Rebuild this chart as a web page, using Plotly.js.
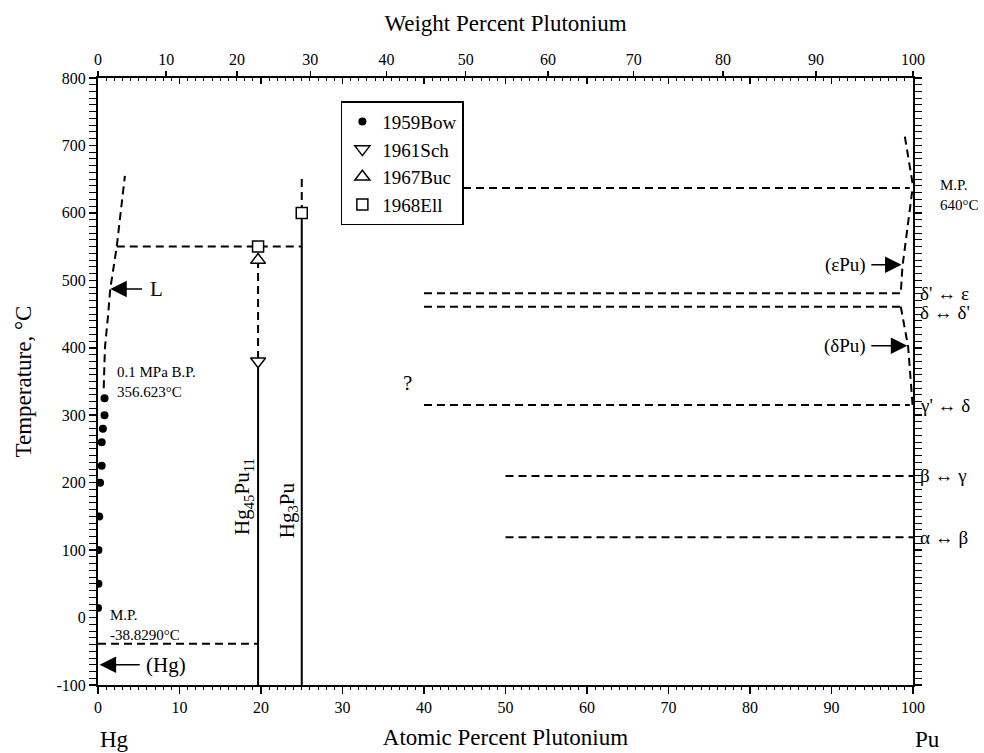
<!DOCTYPE html>
<html>
<head>
<meta charset="utf-8">
<script src="https://cdn.plot.ly/plotly-3.0.1.min.js"></script>
<style>html,body{margin:0;padding:0;background:#fff;}#chart{width:984px;height:753px;}</style>
</head>
<body>
<div id="chart"></div>
<script>
// ---- Data ----
// 1959Bow (filled circles) near pure Hg
const bowX = [0.8, 0.8, 0.6, 0.45, 0.45, 0.25, 0.15, 0.05, 0.05, 0.0];
const bowT = [325, 300, 280, 260, 225, 200, 150, 100, 50, 14];
// 1961Sch (down triangle), 1967Buc (up triangle), 1968Ell (squares)
const schX = [19.64]; const schT = [380];
const bucX = [19.64]; const bucT = [530];
const ellX = [19.64, 25]; const ellT = [550, 600];
// Hg-rich liquidus (dashed)
const liqHgX = [0.7, 0.85, 1.25, 1.5, 2.3, 3.3];
const liqHgT = [340, 400, 450, 487, 550, 655];
// Compounds
const hg45Pu11X = 19.64, hg3PuX = 25;
const peritecticT = 550;
const hg45Pu11Top = 380, hg45Pu11DashTop = 530;
const hg3PuTop = 600, hg3PuDashTop = 655;
const eutecticT = -38.829;
// Pu allotropic transformations (horizontal dashed lines)
const puTransT     = [637, 481, 461, 315, 210, 119];
const puTransStart = [40, 40, 40, 40, 50, 50];
const puTransEnd   = [99.6, 98.6, 98.6, 99.6, 100, 100];
const puTransLabels = ["", "δ' ↔ ε", "δ ↔ δ'", "γ' ↔ δ", "β ↔ γ", "α ↔ β"];
// Pu-rich boundaries (dashed)
const liqPuX = [99.0, 100.0];  const liqPuT = [713, 640];
const epsX = [99.9, 98.7, 98.5]; const epsT = [632, 520, 481];
const delX = [98.5, 99.4, 99.95]; const delT = [461, 402, 315];
// Axis tick labels
const wtTicks = [0, 10, 20, 30, 40, 50, 60, 70, 80, 90, 100];
const tempTicks = [-100, 0, 100, 200, 300, 400, 500, 600, 700, 800];
const tempTickText = ['-100', '0', '100', '200', '300', '400', '500', '600', '700', '800'];
const M_HG = 200.59, M_PU = 244;
function wtToAt(w){ const a = w / M_PU, b = (100 - w) / M_HG; return a + b === 0 ? 0 : 100 * a / (a + b); }

const black = '#000';
const DASH = '8px,5px';
function line(x, y, dashed, w){
  return {x: x, y: y, mode: 'lines', type: 'scatter', showlegend: false, hoverinfo: 'skip',
          line: {color: black, width: w || 2, dash: dashed ? DASH : 'solid'}};
}
const traces = [];
traces.push(line(liqHgX, liqHgT, true));
traces.push(line([liqHgX[4], hg3PuX], [peritecticT, peritecticT], true));
traces.push(line([hg45Pu11X, hg45Pu11X], [hg45Pu11DashTop, hg45Pu11Top], true));
traces.push(line([hg45Pu11X, hg45Pu11X], [hg45Pu11Top, -100], false));
traces.push(line([hg3PuX, hg3PuX], [-100, hg3PuTop], false));
traces.push(line([hg3PuX, hg3PuX], [hg3PuTop, hg3PuDashTop], true));
traces.push(line([0, hg45Pu11X], [eutecticT, eutecticT], true));
for (let i = 0; i < puTransT.length; i++) {
  traces.push(line([puTransStart[i], puTransEnd[i]], [puTransT[i], puTransT[i]], true));
}
traces.push(line(liqPuX, liqPuT, true));
traces.push(line(epsX, epsT, true));
traces.push(line(delX, delT, true));
traces.push({x: [0, 100], y: [0, 0], xaxis: 'x3', yaxis: 'y', mode: 'markers', marker: {opacity: 0}, showlegend: false, hoverinfo: 'skip'});
traces.push({x: [0, 100], y: [0, 0], xaxis: 'x2', yaxis: 'y', mode: 'markers', marker: {opacity: 0}, showlegend: false, hoverinfo: 'skip'});
traces.push({x: bowX, y: bowT, name: '1959Bow', mode: 'markers', type: 'scatter',
  marker: {symbol: 'circle', size: 8, color: black}});
traces.push({x: schX, y: schT, name: '1961Sch', mode: 'markers', type: 'scatter',
  marker: {symbol: 'triangle-down', size: 13, color: '#fff', line: {color: black, width: 1.5}}});
traces.push({x: bucX, y: bucT, name: '1967Buc', mode: 'markers', type: 'scatter',
  marker: {symbol: 'triangle-up', size: 13, color: '#fff', line: {color: black, width: 1.5}}});
traces.push({x: ellX, y: ellT, name: '1968Ell', mode: 'markers', type: 'scatter',
  marker: {symbol: 'square', size: 11, color: '#fff', line: {color: black, width: 1.5}}});

const FONT = 'Liberation Serif, Times New Roman, serif';
const ann = [];
function txt(x, y, text, size, opts){
  ann.push(Object.assign({x: x, y: y, xref: 'x', yref: 'y', text: text, showarrow: false,
    font: {family: FONT, size: size, color: black}, xanchor: 'left', yanchor: 'middle', align: 'left'}, opts || {}));
}
function arrow(x, y, ax, ay){
  ann.push({x: x, y: y, ax: ax, ay: ay, xref: 'x', yref: 'y', axref: 'x', ayref: 'y', text: '',
    showarrow: true, arrowhead: 2, arrowsize: 2.2, arrowwidth: 1.5, arrowcolor: black, standoff: 0});
}
arrow(1.5, 487, 5.6, 487);  txt(6.1, 487, 'L', 21);
arrow(0.2, -70, 5.3, -70);  txt(5.6, -70, '(Hg)', 21);
arrow(98.6, 523, 94.7, 523); txt(94.5, 523, '(εPu)', 19, {xanchor: 'right'});
arrow(99.3, 403, 94.7, 403); txt(94.5, 403, '(δPu)', 19, {xanchor: 'right'});
txt(2.1, 350, '0.1 MPa B.P.<br>356.623°C', 15);
txt(1.2, -11, 'M.P.<br>-38.8290°C', 15);
// labels outside the right edge of the plot (paper coordinates)
ann.push({x: 1.0307, y: 627, xref: 'paper', yref: 'y', text: 'M.P.<br>640°C', showarrow: false,
  xanchor: 'left', yanchor: 'middle', align: 'left', font: {family: FONT, size: 15, color: black}});
for (let i = 0; i < puTransLabels.length; i++) {
  if (!puTransLabels[i]) continue;
  ann.push({x: 1.006, y: puTransT[i] - (i === 2 ? 8 : 0), xref: 'paper', yref: 'y', text: puTransLabels[i],
    showarrow: false, xanchor: 'left', yanchor: 'middle', font: {family: FONT, size: 19, color: black}});
}
txt(38.0, 348, '?', 21, {xanchor: 'center'});
txt(17.8, 179, 'Hg<sub>45</sub>Pu<sub>11</sub>', 21, {xanchor: 'center', textangle: -90});
txt(23.3, 159, 'Hg<sub>3</sub>Pu', 21, {xanchor: 'center', textangle: -90});
ann.push({x: 0, y: -0.09, xref: 'x', yref: 'paper', text: 'Hg', showarrow: false, xanchor: 'left', yanchor: 'middle',
  font: {family: FONT, size: 23, color: black}});
ann.push({x: 100, y: -0.09, xref: 'x', yref: 'paper', text: 'Pu', showarrow: false, xanchor: 'left', yanchor: 'middle',
  font: {family: FONT, size: 23, color: black}});

const wtMinor = [];
for (let w = 1; w < 100; w++) if (w % 10) wtMinor.push(wtToAt(w));

const tickFont = {family: FONT, size: 16, color: black};
const layout = {
  width: 984, height: 753,
  margin: {l: 98, r: 71, t: 78, b: 68},
  paper_bgcolor: '#fff', plot_bgcolor: '#fff',
  font: {family: FONT, color: black},
  showlegend: true,
  legend: {x: 0.298, y: 0.962, xanchor: 'left', yanchor: 'top', bgcolor: '#fff',
    bordercolor: black, borderwidth: 1.5, font: {family: FONT, size: 19, color: black},
    tracegroupgap: 0, itemwidth: 30},
  xaxis: {range: [0, 100], dtick: 10, ticks: 'outside', ticklen: 7, tickwidth: 1.5, tickcolor: black,
    showline: true, linecolor: black, linewidth: 2, mirror: true, showgrid: false, zeroline: false,
    tickfont: tickFont,
    minor: {dtick: 1, ticks: 'outside', ticklen: 3, tickwidth: 1, tickcolor: black, showgrid: false},
    title: {text: 'Atomic Percent Plutonium', font: {family: FONT, size: 23, color: black}, standoff: 14}},
  xaxis2: {overlaying: 'x', side: 'top', anchor: 'y', range: [0, 100], tickmode: 'array',
    tickvals: wtTicks.map(wtToAt), ticktext: wtTicks.map(String), ticks: 'outside', ticklen: 6,
    tickwidth: 1.5, tickcolor: black, showgrid: false, zeroline: false, showline: false, tickfont: tickFont,
    title: {text: 'Weight Percent Plutonium', font: {family: FONT, size: 23, color: black}, standoff: 12}},
  xaxis3: {overlaying: 'x', side: 'top', anchor: 'y', range: [0, 100], dtick: 10, ticks: 'inside',
    ticklen: 6, tickwidth: 1.5, tickcolor: black, showticklabels: false, showgrid: false, zeroline: false,
    showline: false, minor: {dtick: 1, ticks: 'inside', ticklen: 3, tickwidth: 1, tickcolor: black, showgrid: false}},
  yaxis: {range: [-100, 800], tickmode: 'array', tickvals: tempTicks, ticktext: tempTickText,
    ticks: 'outside', ticklen: 7, tickwidth: 1.5, tickcolor: black,
    showline: true, linecolor: black, linewidth: 2, mirror: 'allticks', showgrid: false, zeroline: false,
    tickfont: tickFont,
    minor: {dtick: 10, ticks: 'outside', ticklen: 4, tickwidth: 1, tickcolor: black, showgrid: false},
    title: {text: 'Temperature, °C', font: {family: FONT, size: 23, color: black}, standoff: 18}},
  annotations: ann
};
Plotly.newPlot('chart', traces, layout, {staticPlot: true, displayModeBar: false});
</script>
</body>
</html>
